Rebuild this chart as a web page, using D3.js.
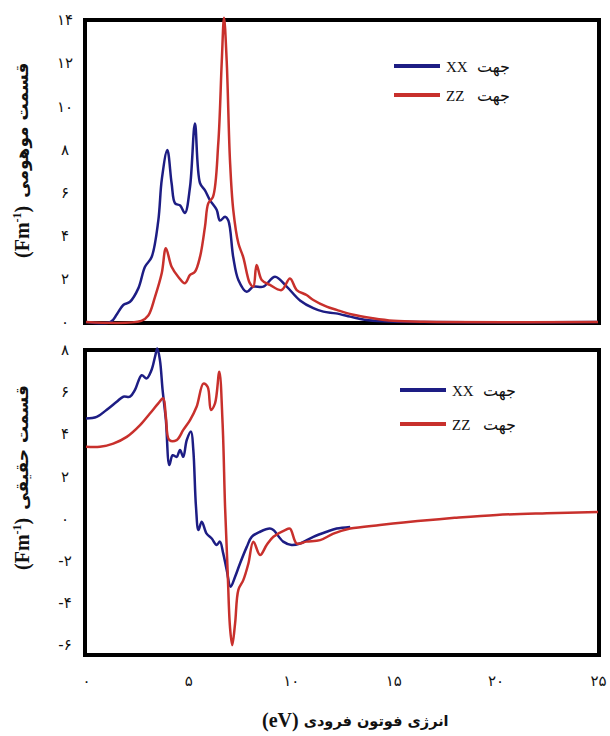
<!DOCTYPE html>
<html>
<head>
<meta charset="utf-8">
<script src="https://cdn.jsdelivr.net/npm/d3@7"></script>
<style>
  html, body { margin: 0; padding: 0; background: #ffffff; }
  svg { display: block; }
</style>
</head>
<body>
<svg id="chart" width="610" height="736"></svg>
<script>
// Photon energy (eV) and imaginary part, xx direction
const imagXX_E = [0, 1.2, 1.5, 1.82, 2.15, 2.56, 2.88, 3.2, 3.53, 3.7, 3.97, 4.18, 4.35, 4.6, 4.83, 5.08, 5.32, 5.57, 5.81, 6.05, 6.38, 6.54, 6.79, 6.95, 7.19, 7.44, 7.85, 8.17, 8.66, 9.23, 9.8, 10.45, 11.1, 11.59, 12.2, 12.9, 13.6, 14.5, 25];
const imagXX   = [0, 0, 0.35, 0.79, 0.94, 1.57, 2.56, 3.0, 4.7, 6.6, 7.97, 6.43, 5.5, 5.4, 5.05, 6.27, 9.2, 6.43, 6.1, 5.65, 5.2, 4.7, 4.88, 4.7, 3.0, 1.95, 1.4, 1.64, 1.64, 2.1, 1.64, 1.0, 0.64, 0.48, 0.4, 0.25, 0.1, 0.03, 0];

// Imaginary part, zz direction
const imagZZ_E = [0, 2.7, 3.04, 3.37, 3.7, 3.9, 4.18, 4.5, 4.83, 5.08, 5.32, 5.57, 5.81, 5.97, 6.2, 6.46, 6.63, 6.74, 6.87, 7.03, 7.19, 7.44, 7.68, 8.0, 8.17, 8.33, 8.58, 8.98, 9.55, 9.96, 10.29, 10.77, 11.1, 11.75, 12.24, 13.0, 14.0, 15.0, 16.5, 25];
const imagZZ   = [0, 0.05, 0.3, 1.17, 2.27, 3.42, 2.56, 2.1, 1.8, 2.18, 2.33, 3.03, 4.42, 5.5, 5.8, 8.3, 12.1, 14.1, 12.1, 7.5, 5.2, 3.65, 3.0, 1.8, 1.64, 2.64, 1.95, 1.72, 1.48, 2.02, 1.48, 1.25, 1.02, 0.71, 0.56, 0.35, 0.18, 0.06, 0.01, 0];

// Real part, xx direction
const realXX_E = [0, 0.52, 1.0, 1.5, 1.82, 2.15, 2.39, 2.72, 2.96, 3.2, 3.37, 3.48, 3.61, 3.74, 3.9, 4.07, 4.23, 4.43, 4.59, 4.75, 4.92, 5.13, 5.24, 5.37, 5.49, 5.65, 5.89, 6.14, 6.38, 6.54, 6.7, 6.87, 7.06, 7.28, 7.52, 7.85, 8.09, 8.5, 8.98, 9.15, 9.63, 10.04, 10.45, 11.1, 11.75, 12.24, 12.9];
const realXX   = [4.74, 4.82, 5.15, 5.54, 5.78, 5.78, 6.1, 6.8, 6.65, 7.05, 7.68, 8.07, 7.52, 6.1, 4.68, 2.53, 3.0, 2.92, 3.25, 2.92, 3.72, 4.12, 3.25, 0.55, -0.56, -0.16, -0.73, -0.96, -1.27, -1.11, -1.67, -2.46, -3.26, -2.78, -2.15, -1.36, -0.88, -0.64, -0.49, -0.56, -1.11, -1.27, -1.2, -0.88, -0.64, -0.49, -0.41];

// Real part, zz direction
const realZZ_E = [0, 0.68, 1.33, 1.99, 2.64, 3.12, 3.53, 3.77, 3.9, 4.07, 4.43, 4.75, 5.08, 5.4, 5.73, 5.94, 6.1, 6.3, 6.51, 6.67, 6.79, 6.92, 7.03, 7.14, 7.28, 7.44, 7.68, 7.93, 8.17, 8.5, 8.82, 9.15, 9.72, 9.96, 10.29, 10.77, 11.43, 12.08, 12.9, 14.35, 15.5, 16.8, 18.0, 20.05, 22.5, 25];
const realZZ   = [3.4, 3.4, 3.55, 3.87, 4.43, 4.98, 5.46, 5.7, 4.82, 3.72, 3.72, 4.2, 4.67, 5.3, 6.4, 6.25, 5.15, 5.46, 6.97, 4.5, 0.55, -2.63, -5.16, -6.03, -5.0, -3.4, -2.94, -2.15, -1.11, -1.75, -1.27, -0.88, -0.56, -0.49, -1.2, -1.11, -1.04, -0.73, -0.49, -0.32, -0.2, -0.08, 0.02, 0.16, 0.24, 0.3];

// Tick values and labels
const xTicks = [0, 5, 10, 15, 20, 25];
const yTicksTop = [0, 2, 4, 6, 8, 10, 12, 14];
const yTicksBottom = [-6, -4, -2, 0, 2, 4, 6, 8];
const legendLabels = ["XX", "ZZ"];
const legendWord = "جهت";
const yTitleTop = "قسمت موهومی";
const yTitleBottom = "قسمت حقیقی";
const xTitle = "انرژی فوتون فرودی";

const BLUE = "#1d1d84";
const RED = "#c8302c";
const persianFont = "'DejaVu Sans', sans-serif";
const serifFont = "'Liberation Serif', 'DejaVu Serif', serif";

const faDigits = "۰۱۲۳۴۵۶۷۸۹";
const toFa = v => String(v).replace(/\d/g, d => faDigits[+d]);

const svg = d3.select("#chart");

const x = d3.scaleLinear().domain([0, 25]).range([86, 598]);
const yTop = d3.scaleLinear().domain([0, 14]).range([322, 20]);
const yBot = d3.scaleLinear().domain([-6.5, 8]).range([655, 350]);

// Panel frames
const frames = [
  { y0: 20, y1: 323 },
  { y0: 350, y1: 655 }
];
svg.selectAll("rect.frame").data(frames).join("rect")
  .attr("class", "frame")
  .attr("x", 85).attr("y", d => d.y0)
  .attr("width", 514).attr("height", d => d.y1 - d.y0)
  .attr("fill", "none").attr("stroke", "#000").attr("stroke-width", 4);

// Y axes (labels only)
function yAxis(scale, ticks) {
  const g = svg.append("g").attr("transform", "translate(75,0)")
    .call(d3.axisLeft(scale).tickValues(ticks).tickSize(0).tickFormat(toFa));
  g.select(".domain").remove();
  g.selectAll("text")
    .attr("x", -10).attr("text-anchor", "middle")
    .style("font-family", persianFont).style("font-size", "15px").attr("fill", "#111");
}
yAxis(yTop, yTicksTop);
yAxis(yBot, yTicksBottom);

// X axis (labels only)
const gx = svg.append("g").attr("transform", "translate(0,655)")
  .call(d3.axisBottom(x).tickValues(xTicks).tickSize(0).tickPadding(20).tickFormat(toFa));
gx.select(".domain").remove();
gx.selectAll("text").style("font-family", persianFont).style("font-size", "15px").attr("fill", "#111");

// Curves
function drawLine(E, V, yScale, color) {
  const pts = E.map((e, i) => [e, V[i]]);
  const line = d3.line().x(d => x(d[0])).y(d => yScale(d[1])).curve(d3.curveCatmullRom.alpha(0.5));
  svg.append("path").datum(pts)
    .attr("d", line)
    .attr("fill", "none").attr("stroke", color)
    .attr("stroke-width", 2.5).attr("stroke-linejoin", "round");
}
drawLine(imagXX_E, imagXX, yTop, BLUE);
drawLine(imagZZ_E, imagZZ, yTop, RED);
drawLine(realXX_E, realXX, yBot, BLUE);
drawLine(realZZ_E, realZZ, yBot, RED);

// Legends
function legend(x0, yA, yB) {
  const items = [{ c: BLUE, t: legendLabels[0], y: yA }, { c: RED, t: legendLabels[1], y: yB }];
  items.forEach(it => {
    svg.append("line").attr("x1", x0).attr("x2", x0 + 46)
      .attr("y1", it.y).attr("y2", it.y)
      .attr("stroke", it.c).attr("stroke-width", 4);
    svg.append("text").attr("x", x0 + 52).attr("y", it.y + 6)
      .style("font-family", serifFont).style("font-size", "15px")
      .attr("fill", "#111").text(it.t);
    svg.append("text").attr("x", x0 + 116).attr("y", it.y + 6)
      .attr("text-anchor", "end")
      .style("font-family", persianFont).style("font-size", "16px")
      .attr("fill", "#111").text(legendWord);
  });
}
legend(394, 66, 95);
legend(400, 390, 424);

// Rotated y-axis titles: unit in parentheses then Persian words, reading upward
function yTitle(baseX, bottomY, words) {
  const g = svg.append("g").attr("transform", `translate(${baseX},${bottomY}) rotate(-90)`);
  const unit = g.append("text").attr("x", 0).attr("y", 0)
    .style("font-family", serifFont).style("font-size", "20px").style("font-weight", "bold")
    .attr("fill", "#111");
  unit.append("tspan").text("(Fm");
  unit.append("tspan").attr("dy", -8).style("font-size", "12px").text("-1");
  unit.append("tspan").attr("dy", 8).text(")");
  const w = unit.node().getComputedTextLength();
  g.append("text").attr("x", w + 8).attr("y", -1)
    .style("font-family", persianFont).style("font-size", "17px").style("font-weight", "bold")
    .attr("fill", "#111").text(words);
}
yTitle(29, 258, yTitleTop);
yTitle(29, 570, yTitleBottom);

// X-axis title
const xt = svg.append("text").attr("x", 262).attr("y", 727)
  .style("font-family", serifFont).style("font-size", "20px").style("font-weight", "bold")
  .attr("fill", "#111").text("(eV)");
const xtw = xt.node().getComputedTextLength();
svg.append("text").attr("x", 262 + xtw + 5).attr("y", 726)
  .style("font-family", persianFont).style("font-size", "14.5px").style("font-weight", "bold")
  .attr("fill", "#111").text(xTitle);
</script>
</body>
</html>
